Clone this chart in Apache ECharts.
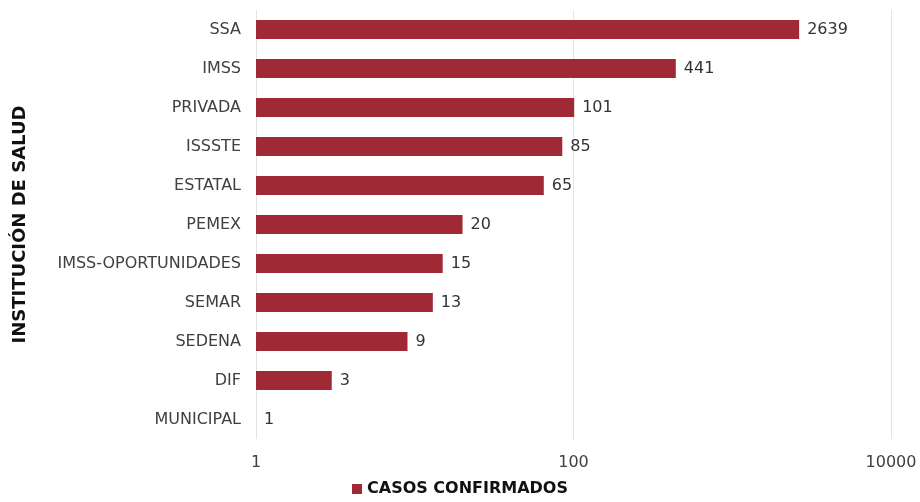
<!DOCTYPE html>
<html>
<head>
<meta charset="utf-8">
<script src="https://cdn.jsdelivr.net/npm/echarts@6/dist/echarts.min.js"></script>
<style>
  html, body { margin: 0; padding: 0; background: #fff; }
  #chart { width: 920px; height: 502px; }
</style>
</head>
<body>
<div id="chart"></div>
<script>
// datos
const instituciones = ["SSA", "IMSS", "PRIVADA", "ISSSTE", "ESTATAL", "PEMEX",
  "IMSS-OPORTUNIDADES", "SEMAR", "SEDENA", "DIF", "MUNICIPAL"];
const casosConfirmados = [2639, 441, 101, 85, 65, 20, 15, 13, 9, 3, 1];

const chart = echarts.init(document.getElementById("chart"));
const fontFam = "'DejaVu Sans', Verdana, sans-serif";

const option = {
  animation: false,
  textStyle: { fontFamily: fontFam },
  grid: { left: 256, right: 29, top: 10, bottom: 63 },
  legend: {
    bottom: 0,
    left: "center",
    icon: "rect",
    itemWidth: 10,
    itemHeight: 10,
    itemGap: 5,
    textStyle: { fontSize: 16, fontWeight: "bold", color: "#111", fontFamily: fontFam },
    data: ["CASOS CONFIRMADOS"],
  },
  xAxis: {
    type: "log",
    logBase: 100,
    min: 1,
    max: 10000,
    axisLine: { show: false },
    axisTick: { show: false },
    splitLine: { show: true, lineStyle: { color: "#e3e3e3", width: 1 } },
    axisLabel: {
      color: "#404040",
      fontSize: 16,
      margin: 16,
      fontFamily: fontFam,
      formatter: (v) => String(Math.round(v)),
    },
  },
  yAxis: {
    type: "category",
    inverse: true,
    data: instituciones,
    name: "INSTITUCIÓN DE SALUD",
    nameLocation: "middle",
    nameRotate: 90,
    nameGap: 227,
    nameTextStyle: { fontSize: 18, fontWeight: "bold", color: "#111", fontFamily: fontFam },
    axisLine: { show: false },
    axisTick: { show: false },
    axisLabel: { color: "#404040", fontSize: 16, margin: 15, fontFamily: fontFam },
  },
  series: [
    {
      name: "CASOS CONFIRMADOS",
      type: "bar",
      data: casosConfirmados,
      barWidth: "49%",
      itemStyle: { color: "#9f2a36" },
      label: {
        show: true,
        position: "right",
        distance: 8,
        color: "#333",
        fontSize: 16,
        fontFamily: fontFam,
      },
    },
  ],
};
chart.setOption(option);
</script>
</body>
</html>
